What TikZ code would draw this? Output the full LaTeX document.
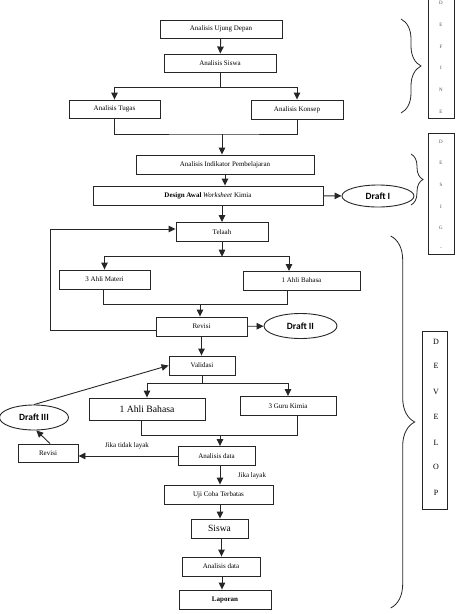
\documentclass[tikz,border=0pt]{standalone}
\usepackage{fontspec}
\setmainfont{Liberation Serif}
\newfontfamily\draftfont{Carlito}
\usetikzlibrary{arrows.meta,shapes.geometric,decorations.pathreplacing}
\begin{document}
\begin{tikzpicture}[x=1pt,y=-1pt,
  ln/.style={line width=0.9pt, draw=black!85},
  bx/.style 2 args={draw=black!85, line width=0.9pt, rectangle, inner sep=0pt,
     minimum width=#1pt, minimum height=#2pt, font=\fontsize{7}{8}\selectfont},
  arr/.style={ln, -{Triangle[length=7pt,width=6.5pt]}},
  draft/.style 2 args={draw=black!85, line width=0.9pt, ellipse, inner sep=0pt,
     minimum width=#1pt, minimum height=#2pt, font=\draftfont\bfseries\fontsize{9.5}{10}\selectfont},
  lbl/.style={inner sep=0pt, font=\fontsize{7}{8}\selectfont},
  sml/.style={inner sep=0pt, font=\fontsize{5}{6}\selectfont, text=black!70},
  big/.style={inner sep=0pt, font=\fontsize{8}{9}\selectfont},
  brc/.style={draw=black!85, line width=0.8pt, decorate, decoration={brace, amplitude=#1}}]
\useasboundingbox (0,0) rectangle (456,614);

% main boxes
\node[bx={122}{18}] (n1) at (221,29) {Analisis Ujung Depan};
\node[bx={112}{18}] (n2) at (220,63) {Analisis Siswa};
\node[bx={91}{18}] (n3) at (114.5,109) {Analisis Tugas};
\node[bx={92}{19}] (n4) at (297,109.5) {Analisis Konsep};
\node[bx={178}{19}] (n5) at (225,164.5) {Analisis Indikator Pembelajaran};
\node[bx={230}{19}] (n6) at (208,195.5) {\textbf{Design Awal} \textit{Worksheet} Kimia};
\node[draft={72}{22}] (d1) at (378,196) {Draft I};
\node[bx={92}{19}] (n7) at (222,232) {Telaah};
\node[bx={91}{19}] (n8) at (104.5,279.5) {3 Ahli Materi};
\node[bx={117}{19}] (n9) at (301.5,280.5) {1 Ahli Bahasa};
\node[bx={91}{19}] (n10) at (201.5,326.5) {Revisi};
\node[draft={73}{25}] (d2) at (300.5,326) {Draft II};
\node[bx={66}{19}] (n11) at (202,365.5) {Validasi};
\node[bx={116}{22}, font=\fontsize{9.7}{11}\selectfont] (n12) at (147,409) {1 Ahli Bahasa};
\node[bx={96}{19}] (n13) at (288,406) {3 Guru Kimia};
\node[bx={77}{19}] (n14) at (216.5,456) {Analisis data};
\node[bx={60}{18}] (r2) at (48,453) {Revisi};
\node[draft={69}{25}] (d3) at (34,417.5) {Draft III};
\node[bx={109}{19}] (n15) at (218.5,494.5) {Uji Coba Terbatas};
\node[bx={57}{19}, font=\fontsize{9.5}{10}\selectfont] (n16) at (219.5,528.5) {Siswa};
\node[bx={78}{19}] (n17) at (221,566.5) {Analisis data};
\node[bx={92}{19}, font=\fontsize{7}{8}\selectfont\bfseries] (n18) at (225,599.5) {Laporan};
\node[lbl] (t1) at (127,446) {Jika tidak layak};
\node[lbl] (t2) at (252,476) {Jika layak};

% connectors
\draw[arr] (n1) -- (n2);
\coordinate (j1) at (220,87);
\draw[ln] (n2) -- (j1);
\draw[arr] (j1) -| (n3);
\draw[arr] (j1) -| (n4);
\coordinate (j2) at (222,134);
\draw[ln] (n3) |- (j2) -| (n4);
\draw[arr] (j2) -- (j2 |- n5.north);
\draw[arr] (n5) -- (n5 |- n6.north);
\draw[arr] (n6) -- (d1);
\draw[arr] (n6.south -| n7) -- (n7);
\coordinate (j3) at (222,256.7);
\coordinate (k9) at (289,271);
\draw[arr] (n7) -- (j3);
\draw[arr] (j3) -| (n8);
\draw[arr] (j3) -| (k9);
\coordinate (j4) at (200,304.7);
\draw[ln] ([xshift=-1.5pt]n8.south) |- (j4) -| ([xshift=-14.5pt]n9.south);
\draw[arr] (j4) -- (j4 |- n10.north);
\draw[arr] (n10) -- (d2);
\coordinate (L1) at (50,330);
\coordinate (L2) at (50,229);
\draw[arr] (n10.west |- L1) -- (L1) -- (L2) -- (L2 -| n7.west);
\draw[arr] (n10) -- (n10 |- n11.north);
\coordinate (j5) at (202,383.7);
\draw[ln] (n11) -- (j5);
\draw[arr] (j5) -| (n12);
\draw[arr] (j5) -| (n13);
\coordinate (j6) at (220,435.7);
\draw[ln] ([xshift=-6pt]n12.south) |- (j6) -| ([xshift=9pt]n13.south);
\draw[arr] (j6) -- (j6 |- n14.north);
\draw[arr] (n14) -- (n14 -| r2.east);
\draw[arr] ([xshift=2pt]r2.north) -- (d3.-80);
\draw[arr] (d3.north) -- (n11.west);
\draw[arr] ([xshift=3.5pt]n14.south) -- ([xshift=3.5pt]n14.south |- n15.north);
\draw[arr] ([xshift=1.5pt]n15.south) -- ([xshift=1.5pt]n15.south |- n16.north);
\draw[arr] ([xshift=2pt]n16.south) -- ([xshift=2pt]n16.south |- n17.north);
\draw[arr] ([xshift=1pt]n17.south) -- ([xshift=1pt]n17.south |- n18.north);

% braces
\draw[brc=20pt] (401,19) -- (401,113);
\draw[brc=12pt] (411,154) -- (411,205);
\draw[brc=24pt] (390.7,236) -- (390.7,608);

% side boxes
\draw[ln, line width=0.8pt] (428,-5) rectangle (454,118);
\foreach \l/\y [count=\i] in {D/3,E/25,F/47,I/68,N/90,E/112}
  \node[sml] (def\i) at (441,\y) {\l};
\draw[ln, line width=0.8pt] (428,133) rectangle (454,254);
\foreach \l/\y [count=\i] in {D/141.7,E/163,S/185,I/207,G/228,../248}
  \node[sml] (des\i) at (441,\y) {\l};
\draw[ln, line width=0.8pt] (422.7,331) rectangle (447.7,509);
\foreach \l/\y [count=\i] in {D/341.7,E/366,V/392,E/416.7,L/443,O/467,P/493}
  \node[big] (dev\i) at (436,\y) {\l};
\end{tikzpicture}
\end{document}
